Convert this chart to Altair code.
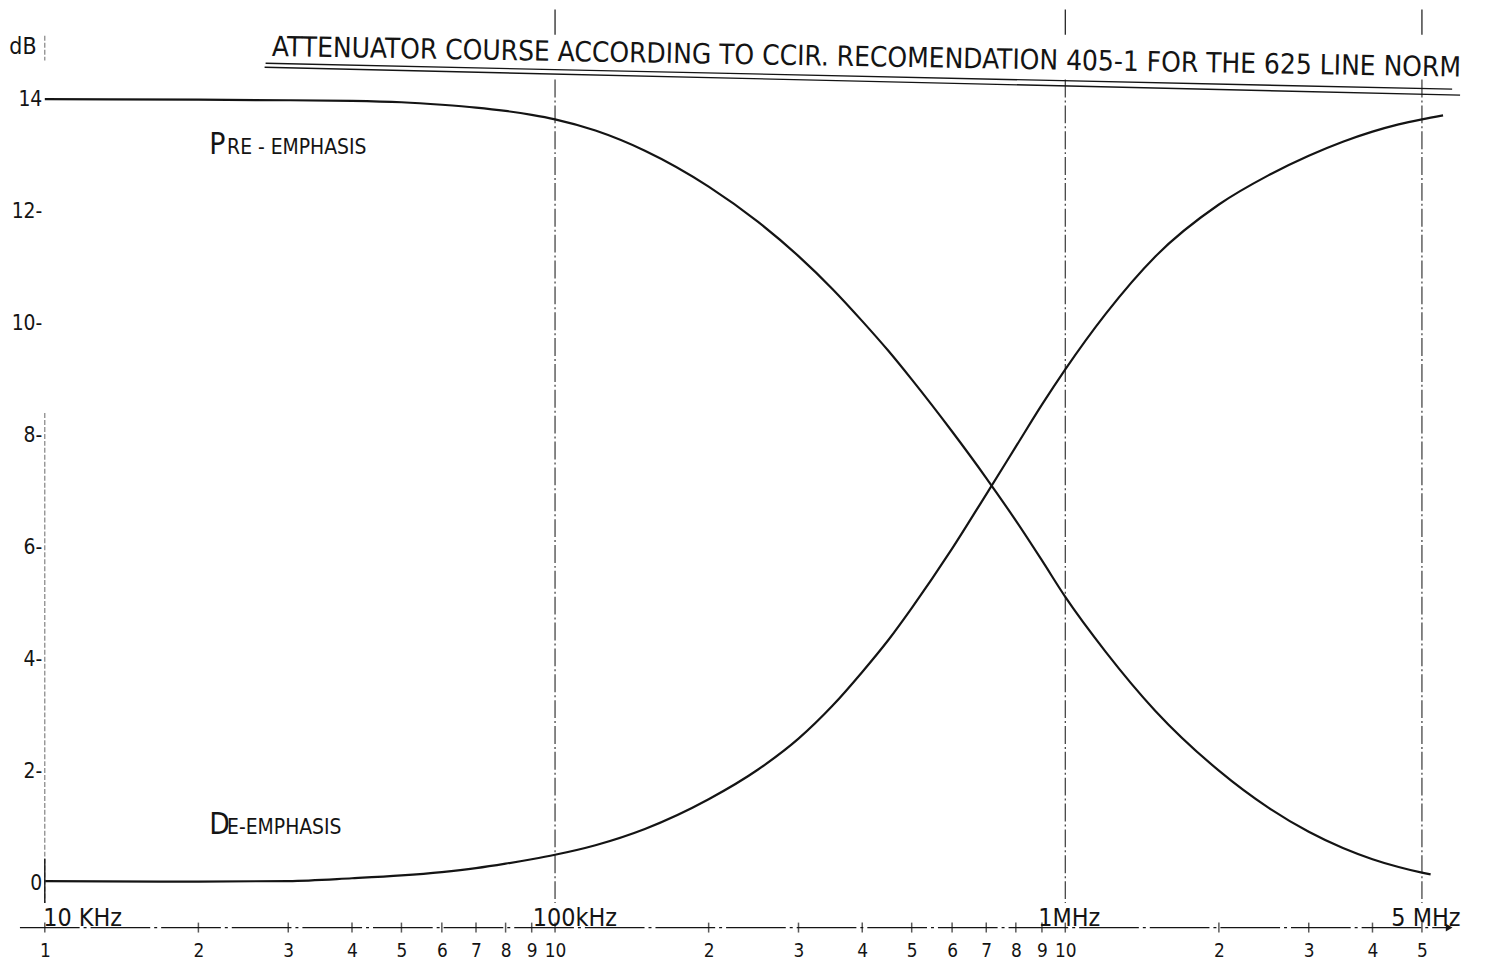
import altair as alt
import pandas as pd

# ---------------- data ----------------
pre_freq_khz = [10, 20, 30, 40, 50, 60, 70, 80, 90, 100, 120, 150, 200, 250, 300, 350,
                400, 450, 500, 600, 700, 800, 900, 1000, 1200, 1500, 2000, 2500, 3000,
                3500, 4000, 4500, 5000, 5200]
pre_db = [14.0, 13.99, 13.98, 13.97, 13.945, 13.9, 13.85, 13.79, 13.72, 13.64, 13.44,
          13.08, 12.44, 11.81, 11.2, 10.61, 10.04, 9.51, 9.0, 8.07, 7.24, 6.48, 5.77,
          5.12, 4.14, 3.09, 2.02, 1.36, 0.93, 0.64, 0.44, 0.3, 0.2, 0.17]

de_freq_khz = [10, 20, 30, 40, 50, 60, 70, 80, 90, 100, 120, 150, 200, 250, 300, 350,
               400, 450, 500, 600, 700, 800, 900, 1000, 1200, 1500, 2000, 2500, 3000,
               3500, 4000, 4500, 5000, 5500]
de_db = [0.05, 0.04, 0.05, 0.1, 0.15, 0.21, 0.28, 0.36, 0.44, 0.52, 0.69, 0.98, 1.51,
         2.04, 2.59, 3.18, 3.78, 4.35, 4.92, 5.98, 6.95, 7.8, 8.55, 9.18, 10.17, 11.19,
         12.12, 12.64, 12.99, 13.24, 13.42, 13.55, 13.64, 13.71]

x_tick_khz = [10, 20, 30, 40, 50, 60, 70, 80, 90,
              100, 200, 300, 400, 500, 600, 700, 800, 900,
              1000, 2000, 3000, 4000, 5000]
y_tick_db = [0, 2, 4, 6, 8, 10, 12, 14]

decade_khz = [10, 100, 1000, 5000]
decade_text = ["10 KHz", "100kHz", "1MHz", "5 MHz"]
marker_khz = [100, 1000, 5000]

title_text = "ATTENUATOR COURSE ACCORDING TO CCIR. RECOMENDATION 405-1 FOR THE 625 LINE NORM"
curve_first = ["P", "D"]
curve_rest = ["RE - EMPHASIS", "E-EMPHASIS"]
curve_label_khz = [21, 21]
curve_label_db = [13.02, 0.89]

# ---------------- chart ----------------
FONT = "DejaVu Sans Condensed"
INK = "#141414"
W, H = 1415, 922

xscale = alt.Scale(type="log", domain=[10, 5730], nice=False)
yscale = alt.Scale(domain=[-0.78, 15.58], nice=False, zero=False)

curves = pd.DataFrame(
    {"f": pre_freq_khz + de_freq_khz,
     "db": pre_db + de_db,
     "series": ["pre"] * len(pre_db) + ["de"] * len(de_db)}
)

label_expr_x = (
    "datum.value == 10 ? '1' : (datum.value == 100 || datum.value == 1000) ? '10' : "
    "toString(round(datum.value / pow(10, floor(log(datum.value * 1.0001) / LN10))))"
)
label_expr_y = (
    "toString(round(datum.value)) + ((datum.value == 0 || datum.value == 14) ? ' ' : '-')"
)

lines = alt.Chart(curves).mark_line(
    interpolate="monotone", color=INK, strokeWidth=2.2
).encode(
    x=alt.X("f:Q", scale=xscale, title=None,
            axis=alt.Axis(values=x_tick_khz, labelExpr=label_expr_x, domain=False,
                          ticks=False, grid=False, labelPadding=14, labelFontSize=19,
                          labelFont=FONT, labelColor=INK, labelFlush=False,
                          labelOverlap=False, labelBound=False)),
    y=alt.Y("db:Q", scale=yscale, title=None,
            axis=alt.Axis(values=y_tick_db, labelExpr=label_expr_y,
                          domain=False, ticks=False, grid=False, labelPadding=3,
                          labelFontSize=21, labelFont=FONT, labelColor=INK)),
    detail="series:N",
)

one = pd.DataFrame({"k": [0]})

mk = pd.DataFrame({"f": marker_khz, "top": [15.6] * 3, "tb": [15.15] * 3,
                   "mt": [14.35] * 3, "mb": [-0.34] * 3})
vtop = alt.Chart(mk).mark_rule(color=INK, strokeWidth=1.2).encode(
    x=alt.X("f:Q", scale=xscale, title=None),
    y=alt.Y("top:Q", scale=yscale, title=None), y2="tb:Q",
)
vmain = alt.Chart(mk).mark_rule(color=INK, strokeWidth=1.2, strokeDash=[18, 3, 2, 3], opacity=0.85).encode(
    x=alt.X("f:Q", scale=xscale, title=None),
    y=alt.Y("mt:Q", scale=yscale, title=None), y2="mb:Q",
)
ya = pd.DataFrame({"f": [10, 10, 10], "a": [8.4, 15.13, 0.45], "b": [-0.34, 14.69, -0.34],
                   "s": ["d", "d", "s"]})
yline = alt.Chart(ya).transform_filter("datum.s == 'd'").mark_rule(
    color="#777", strokeWidth=1.1, strokeDash=[5, 2]).encode(
    x=alt.X("f:Q", scale=xscale, title=None),
    y=alt.Y("a:Q", scale=yscale, title=None), y2="b:Q",
)
yline2 = alt.Chart(ya).transform_filter("datum.s == 's'").mark_rule(
    color=INK, strokeWidth=1.4).encode(
    x=alt.X("f:Q", scale=xscale, title=None),
    y=alt.Y("a:Q", scale=yscale, title=None), y2="b:Q",
)

xaxis_line = alt.Chart(one).mark_rule(color=INK, strokeWidth=1.3, strokeDash=[60, 4, 3, 4]).encode(
    x=alt.value(-25), x2=alt.value(W - 4), y=alt.value(H),
)
arrow = alt.Chart(one).mark_point(shape="triangle-right", filled=True, size=60, color=INK, opacity=1).encode(
    x=alt.value(W - 3), y=alt.value(H),
)
xt = pd.DataFrame({"f": x_tick_khz})
xticks = alt.Chart(xt).mark_tick(orient="vertical", size=10, thickness=1.5, color=INK).encode(
    x=alt.X("f:Q", scale=xscale, title=None), y=alt.value(H),
)

dec_dx = [38, 20, 4, 4]
dec_layers = []
for f, t, dx in zip(decade_khz, decade_text, dec_dx):
    d = pd.DataFrame({"f": [f], "t": [t]})
    dec_layers.append(
        alt.Chart(d).mark_text(align="center", baseline="alphabetic", font=FONT,
                               fontSize=25, color=INK, dx=dx).encode(
            x=alt.X("f:Q", scale=xscale, title=None), y=alt.value(H - 2), text="t:N")
    )

title = alt.Chart(one).mark_text(align="center", baseline="alphabetic", font=FONT,
                                 fontSize=28, color=INK, angle=1.0).encode(
    x=alt.value(826), y=alt.value(56), text=alt.value(title_text))
ul1 = alt.Chart(one).mark_rule(color=INK, strokeWidth=1.4).encode(
    x=alt.value(222), y=alt.value(53), x2=alt.value(1415), y2=alt.value(79))
ul2 = alt.Chart(one).mark_rule(color=INK, strokeWidth=1.4).encode(
    x=alt.value(221), y=alt.value(57), x2=alt.value(1423), y2=alt.value(85))

db_label = alt.Chart(one).mark_text(align="center", baseline="middle", font=FONT,
                                    fontSize=23, color=INK).encode(
    x=alt.value(-22), y=alt.value(37), text=alt.value("dB"))

cl = pd.DataFrame({"f": curve_label_khz, "db": curve_label_db,
                   "first": curve_first, "rest": curve_rest})
cl_first = alt.Chart(cl).mark_text(align="left", baseline="alphabetic", font=FONT,
                                   fontSize=30, color=INK).encode(
    x=alt.X("f:Q", scale=xscale, title=None),
    y=alt.Y("db:Q", scale=yscale, title=None),
    text="first:N",
)
cl_rest = alt.Chart(cl).mark_text(align="left", baseline="alphabetic", font=FONT,
                                  fontSize=21, color=INK, dx=18).encode(
    x=alt.X("f:Q", scale=xscale, title=None),
    y=alt.Y("db:Q", scale=yscale, title=None),
    text="rest:N",
)

chart = alt.layer(
    lines, yline, yline2, vtop, vmain, xaxis_line, arrow, xticks,
    *dec_layers, title, ul1, ul2, db_label, cl_first, cl_rest,
).properties(
    width=W, height=H,
    autosize=alt.AutoSizeParams(type="none"),
    padding={"left": 37, "top": 0, "right": 25, "bottom": 31},
    background="white",
).configure_view(stroke=None)

chart.save("out.html", embed_options={"renderer": "svg", "actions": False})
